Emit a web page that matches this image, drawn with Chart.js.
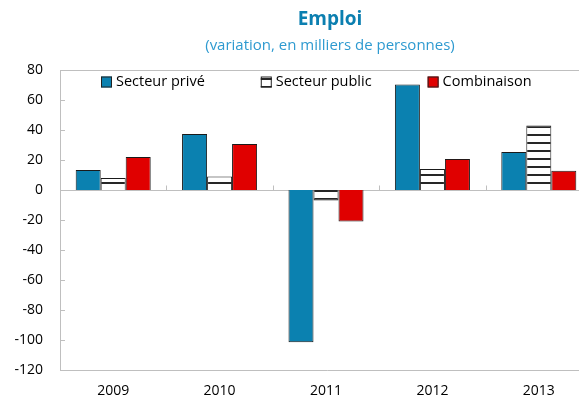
<!DOCTYPE html>
<html>
<head>
<meta charset="utf-8">
<script src="https://cdn.jsdelivr.net/npm/chart.js@4.4.1/dist/chart.umd.min.js"></script>
<style>
  html, body { margin: 0; padding: 0; background: #fff; overflow: hidden; }
  #wrap { position: relative; width: 593px; height: 400px; }
  #title { position: absolute; left: 0; top: 5px; width: 660px; text-align: center;
           font: bold 19px "Open Sans", sans-serif; color: #0b7fb0; }
  #subtitle { position: absolute; left: 0; top: 34px; width: 660px; text-align: center;
              font: 15px "Open Sans", sans-serif; color: #2e9ad0; }
</style>
</head>
<body>
<div id="wrap">
  <div id="title">Emploi</div>
  <div id="subtitle">(variation, en milliers de personnes)</div>
  <canvas id="chart" width="593" height="400"></canvas>
</div>
<script>
    "use strict";

    var years = ['2009', '2010', '2011', '2012', '2013'];
    var seriesNames = ['Secteur privé', 'Secteur public', 'Combinaison'];
    var privateValues = [13.3, 37.3, -101.5, 70.4, 25.3];
    var publicValues = [8, 9, -7, 14, 43];
    var combinedValues = [22, 30.7, -21, 20.7, 12.9];
    var yTicks = [80, 60, 40, 20, 0, -20, -40, -60, -80, -100, -120];

    var FONT = '"Open Sans", sans-serif';
    var GRAY = '#bfbfbf';

    // horizontal stripes for the public sector bars
    function makeStripes() {
        var c = document.createElement('canvas');
        c.width = 8;
        c.height = 8;
        var g = c.getContext('2d');
        g.fillStyle = '#ffffff';
        g.fillRect(0, 0, 8, 8);
        g.fillStyle = '#262626';
        g.fillRect(0, 6, 8, 2);
        return g.createPattern(c, 'repeat');
    }
    var stripes = makeStripes();

    var frame = {
        id: 'frame',
        beforeDatasetsDraw: function(chart) {
            var ctx = chart.ctx;
            var a = chart.chartArea;
            var y = chart.scales.y;
            var x = chart.scales.x;
            ctx.save();
            ctx.strokeStyle = GRAY;
            ctx.lineWidth = 1;
            ctx.beginPath();
            ctx.moveTo(a.right + 5, a.top + 0.5);
            ctx.lineTo(a.left + 0.5, a.top + 0.5);
            ctx.lineTo(a.left + 0.5, a.bottom + 0.5);
            ctx.lineTo(a.right + 5, a.bottom + 0.5);
            // y ticks inside the plot
            yTicks.forEach(function(v) {
                var py = Math.round(y.getPixelForValue(v)) + 0.5;
                ctx.moveTo(a.left, py);
                ctx.lineTo(a.left + 5, py);
            });
            // zero line with category ticks
            var zy = Math.round(y.getPixelForValue(0)) + 0.5;
            ctx.moveTo(a.left, zy);
            ctx.lineTo(a.right + 5, zy);
            for (var i = 1; i < years.length; i++) {
                var px = Math.round((x.getPixelForValue(i - 1) + x.getPixelForValue(i)) / 2) + 0.5;
                ctx.moveTo(px, zy);
                ctx.lineTo(px, zy - 5);
            }
            ctx.stroke();
            ctx.restore();
        },
        afterDraw: function(chart) {
            // legend inside the plot area
            var ctx = chart.ctx;
            ctx.save();
            ctx.font = '14.5px ' + FONT;
            ctx.textBaseline = 'middle';
            var lx = 101;
            var ly = 82;
            chart.data.datasets.forEach(function(ds) {
                ctx.fillStyle = ds.backgroundColor;
                ctx.fillRect(lx, ly - 5.5, 11, 11);
                ctx.strokeStyle = '#222';
                ctx.lineWidth = 1;
                ctx.strokeRect(lx + 0.5, ly - 5, 10, 10);
                ctx.fillStyle = '#000';
                ctx.fillText(ds.label, lx + 15, ly);
                lx += 15 + ctx.measureText(ds.label).width + 56;
            });
            ctx.restore();
        }
    };

    var ctx = document.getElementById('chart').getContext('2d');
    var chart = new Chart(ctx, {
        type: 'bar',
        data: {
            labels: years,
            datasets: [{
                label: seriesNames[0],
                data: privateValues,
                backgroundColor: '#0b81b0',
                borderColor: '#1a1a1a',
                borderWidth: 1
            }, {
                label: seriesNames[1],
                data: publicValues,
                backgroundColor: stripes,
                borderColor: '#1a1a1a',
                borderWidth: 1
            }, {
                label: seriesNames[2],
                data: combinedValues,
                backgroundColor: '#e00000',
                borderColor: '#1a1a1a',
                borderWidth: 1
            }]
        },
        options: {
            responsive: false,
            animation: false,
            events: [],
            layout: { padding: { top: 70, right: 1, left: 0, bottom: 0 } },
            datasets: {
                bar: { categoryPercentage: 0.705, barPercentage: 1 }
            },
            plugins: {
                legend: { display: false },
                title: { display: false },
                tooltip: { enabled: false }
            },
            scales: {
                x: {
                    grid: { display: false, drawTicks: false },
                    border: { display: false },
                    ticks: { color: '#000', padding: 13, font: { family: FONT, size: 14 } },
                    afterFit: function(scale) { scale.height = 30; }
                },
                y: {
                    min: -120,
                    max: 80,
                    afterBuildTicks: function(scale) {
                        scale.ticks = yTicks.map(function(v) { return { value: v }; });
                    },
                    grid: { display: false, drawTicks: false },
                    border: { display: false },
                    ticks: { color: '#000', padding: 17, font: { family: FONT, size: 14 } },
                    afterFit: function(scale) { scale.width = 60; }
                }
            }
        },
        plugins: [frame]
    });
</script>
</body>
</html>
